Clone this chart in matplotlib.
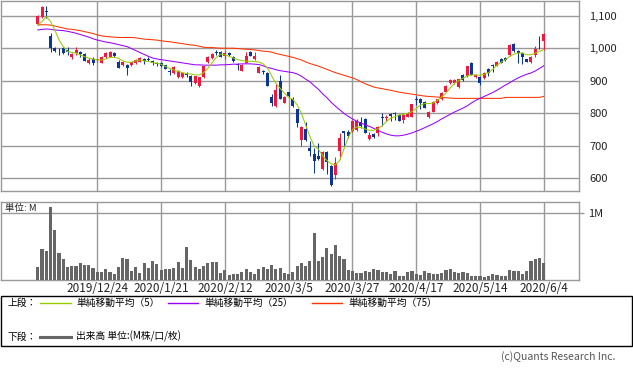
import numpy as np
import matplotlib
matplotlib.use("Agg")
import matplotlib.pyplot as plt
from matplotlib.patches import Rectangle
from matplotlib.ticker import FuncFormatter

plt.rcParams['font.family'] = ['Noto Sans CJK JP', 'DejaVu Sans']

# ---- values (daily candles, 2019/12/4 - 2020/6/4) ----
grid_idx = [14, 29, 44, 59, 74, 89, 104, 119]
date_labels = ['2019/12/24', '2020/1/21', '2020/2/12', '2020/3/5',
               '2020/3/27', '2020/4/17', '2020/5/14', '2020/6/4']
price_ticks = [600, 700, 800, 900, 1000, 1100]

opens = [1074, 1096, 1114, 1036, 1002, 993, 1002, 995, 972, 985,
         988, 981, 955, 968, 963, 956, 972, 974, 985, 959,
         948, 950, 950, 954, 959, 966, 966, 961, 956, 954,
         947, 929, 925, 912, 912, 922, 915, 893, 884, 913,
         957, 969, 988, 987, 976, 985, 974, 952, 931, 954,
         988, 966, 925, 930, 925, 851, 823, 900, 833, 865,
         843, 812, 718, 752, 695, 675, 670, 630, 680, 638,
         610, 685, 746, 744, 745, 748, 772, 784, 720, 737,
         741, 790, 786, 798, 800, 795, 780, 790, 790, 842,
         843, 836, 790, 805, 831, 843, 867, 894, 892, 880,
         918, 915, 956, 911, 913, 908, 935, 949, 946, 966,
         969, 979, 1013, 993, 985, 966, 959, 979, 1020, 1022]
highs = [1101, 1130, 1131, 1048, 1005, 1000, 1004, 1005, 985, 1004,
         990, 985, 969, 972, 968, 975, 988, 991, 988, 963,
         961, 953, 958, 967, 972, 970, 972, 965, 959, 957,
         949, 935, 944, 932, 926, 926, 918, 916, 913, 946,
         975, 986, 995, 990, 990, 988, 976, 955, 952, 987,
         993, 987, 946, 933, 928, 859, 890, 917, 852, 867,
         849, 814, 760, 772, 716, 693, 708, 685, 683, 640,
         667, 739, 747, 750, 780, 782, 790, 786, 744, 740,
         762, 800, 795, 800, 805, 798, 800, 803, 829, 852,
         846, 838, 808, 838, 845, 866, 887, 906, 905, 907,
         922, 946, 958, 922, 915, 928, 938, 952, 962, 970,
         973, 1012, 1015, 996, 988, 968, 976, 1007, 1036, 1048]
lows = [1071, 1094, 1092, 987, 988, 979, 983, 979, 966, 979,
        972, 960, 951, 950, 958, 954, 970, 972, 974, 938,
        946, 919, 944, 952, 957, 951, 960, 947, 944, 943,
        935, 918, 922, 909, 910, 913, 885, 891, 882, 910,
        954, 967, 979, 972, 966, 976, 959, 932, 929, 954,
        975, 964, 924, 921, 885, 823, 821, 844, 831, 851,
        820, 759, 700, 716, 669, 618, 656, 627, 615, 577,
        598, 659, 700, 725, 742, 745, 754, 739, 718, 724,
        730, 760, 777, 775, 780, 777, 770, 788, 788, 826,
        812, 815, 786, 803, 829, 841, 865, 890, 889, 878,
        900, 913, 917, 908, 888, 905, 915, 928, 944, 954,
        962, 977, 988, 956, 952, 957, 955, 973, 997, 996]
closes = [1099, 1127, 1110, 1000, 993, 990, 985, 988, 981, 995,
          983, 962, 964, 955, 966, 972, 984, 987, 975, 938,
          959, 938, 957, 964, 969, 960, 963, 954, 952, 944,
          936, 927, 941, 929, 925, 918, 897, 915, 912, 944,
          972, 982, 986, 974, 985, 980, 961, 948, 950, 976,
          976, 976, 943, 927, 885, 831, 872, 844, 851, 852,
          823, 771, 757, 718, 685, 655, 660, 680, 650, 580,
          647, 723, 741, 729, 778, 775, 760, 741, 734, 727,
          759, 786, 788, 792, 799, 778, 795, 800, 829, 841,
          831, 816, 805, 836, 843, 864, 884, 903, 903, 905,
          903, 944, 918, 918, 892, 925, 925, 944, 959, 956,
          964, 1010, 990, 985, 972, 959, 972, 997, 1018, 1043]

# volume in millions
volume = [0.20, 0.46, 0.44, 1.09, 0.75, 0.41, 0.32, 0.20, 0.21, 0.21,
          0.26, 0.23, 0.22, 0.18, 0.12, 0.12, 0.17, 0.12, 0.09, 0.20,
          0.33, 0.32, 0.14, 0.20, 0.11, 0.26, 0.18, 0.29, 0.24, 0.16,
          0.17, 0.17, 0.18, 0.27, 0.18, 0.50, 0.30, 0.20, 0.17, 0.21,
          0.26, 0.27, 0.27, 0.11, 0.15, 0.08, 0.09, 0.09, 0.12, 0.17,
          0.12, 0.09, 0.17, 0.20, 0.17, 0.23, 0.17, 0.18, 0.11, 0.09,
          0.12, 0.21, 0.26, 0.21, 0.29, 0.70, 0.29, 0.35, 0.48, 0.39,
          0.53, 0.36, 0.32, 0.15, 0.14, 0.11, 0.11, 0.14, 0.12, 0.17,
          0.15, 0.12, 0.12, 0.09, 0.14, 0.07, 0.06, 0.12, 0.14, 0.09,
          0.08, 0.14, 0.11, 0.09, 0.09, 0.11, 0.15, 0.17, 0.12, 0.11,
          0.12, 0.11, 0.06, 0.06, 0.06, 0.05, 0.07, 0.09, 0.08, 0.06,
          0.06, 0.16, 0.14, 0.14, 0.09, 0.14, 0.28, 0.32, 0.33, 0.26]

ma5 = [1072, 1082, 1097, 1082, 1056, 1025, 1005, 990, 987, 985,
       979, 974, 969, 967, 964, 964, 967, 972, 972, 969,
       961, 957, 957, 961, 964, 961, 959, 956, 954, 951,
       944, 938, 933, 929, 925, 922, 921, 918, 918, 925,
       938, 955, 972, 982, 980, 975, 970, 965, 962, 960,
       960, 959, 958, 952, 940, 915, 892, 877, 862, 849,
       843, 826, 800, 764, 729, 700, 690, 670, 655, 645,
       642, 655, 690, 725, 750, 758, 757, 752, 748, 748,
       752, 762, 775, 785, 790, 795, 797, 800, 805, 815,
       825, 830, 830, 832, 840, 850, 862, 878, 892, 900,
       908, 915, 918, 918, 917, 920, 925, 935, 948, 957,
       965, 975, 982, 985, 985, 980, 980, 985, 990, 996]
ma25 = [1056, 1058, 1059, 1058, 1056, 1055, 1054, 1052, 1049, 1046,
        1042, 1038, 1034, 1029, 1025, 1022, 1019, 1017, 1014, 1011,
        1008, 1005, 999, 993, 987, 981, 975, 970, 967, 965,
        963, 961, 959, 957, 955, 953, 951, 949, 949, 948,
        948, 948, 948, 949, 949, 950, 951, 951, 952, 952,
        952, 951, 950, 946, 941, 938, 934, 931, 929, 927,
        925, 921, 914, 905, 897, 885, 874, 860, 848, 834,
        822, 811, 800, 791, 783, 776, 770, 765, 760, 754,
        748, 742, 737, 733, 731, 731, 733, 736, 740, 745,
        750, 756, 762, 768, 775, 783, 790, 797, 804, 810,
        816, 823, 832, 840, 846, 852, 858, 864, 871, 879,
        887, 894, 902, 909, 915, 920, 924, 930, 938, 946]
ma75 = [1072, 1072, 1072, 1071, 1068, 1065, 1062, 1059, 1058, 1056,
        1054, 1051, 1048, 1045, 1041, 1038, 1036, 1035, 1034, 1033,
        1033, 1033, 1033, 1032, 1030, 1028, 1027, 1026, 1025, 1023,
        1021, 1020, 1018, 1016, 1014, 1012, 1010, 1009, 1006, 1003,
        1002, 1002, 1001, 1000, 1000, 1000, 1000, 999, 998, 997,
        996, 995, 993, 991, 990, 988, 984, 981, 978, 975,
        972, 968, 964, 958, 953, 949, 945, 940, 935, 930,
        925, 921, 917, 913, 909, 904, 897, 891, 886, 881,
        878, 876, 873, 871, 868, 865, 863, 861, 859, 857,
        855, 853, 852, 851, 850, 849, 848, 847, 846, 846,
        846, 846, 846, 846, 846, 846, 846, 846, 846, 846,
        849, 849, 849, 849, 849, 849, 849, 849, 849, 852]

# colours
UP = '#f5163b'
DOWN = '#0b3596'
MA5_C = '#99cc00'
MA25_C = '#9900ff'
MA75_C = '#ff3300'
GRID = '#999999'
VOL_C = '#666666'

W, H = 633, 373
fig = plt.figure(figsize=(W / 100, H / 100), dpi=100)


def px_rect(x0, y0, x1, y1):
    # pixel box (top-left origin) -> figure fraction rect
    return [x0 / W, 1 - y1 / H, (x1 - x0) / W, (y1 - y0) / H]


ax = fig.add_axes(px_rect(1, 1, 579, 190.7))
axv = fig.add_axes(px_rect(1, 202, 579, 280.3))

x = np.arange(len(closes))
o = np.array(opens, dtype=float)
c = np.array(closes, dtype=float)
hi = np.array(highs, dtype=float)
lo = np.array(lows, dtype=float)
colors = np.where(c >= o, UP, DOWN)

# candles
ax.vlines(x, lo, hi, colors=colors, linewidth=0.75, zorder=3)
body_h = np.maximum(np.abs(c - o), 2.5)
ax.bar(x, body_h, bottom=np.minimum(o, c), width=0.72, color=colors, linewidth=0, zorder=4)

# moving averages
ax.plot(x, ma75, color=MA75_C, lw=0.75, zorder=5)
ax.plot(x, ma25, color=MA25_C, lw=0.75, zorder=5)
ax.plot(x, ma5, color=MA5_C, lw=0.75, zorder=6)

xlim = (-8.66, 127.3)
ax.set_xlim(*xlim)
ax.set_ylim(562.5, 1145)
ax.set_xticks(grid_idx)
ax.set_yticks(price_ticks)
ax.yaxis.tick_right()
ax.yaxis.set_major_formatter(FuncFormatter(lambda v, _: '{:,.0f}'.format(v)))
ax.tick_params(axis='x', length=0, labelbottom=False)
ax.tick_params(axis='y', length=0, pad=7.5, labelsize=8, labelcolor='#222222')
ax.grid(True, color=GRID, lw=1.0, zorder=0)
ax.set_axisbelow(True)

# volume
axv.bar(x, volume, width=0.75, color=VOL_C, linewidth=0, zorder=3)
axv.set_xlim(*xlim)
axv.set_ylim(0, 1.163)
axv.set_yticks([1])
axv.set_yticklabels(['1M'])
axv.yaxis.tick_right()
axv.set_xticks(grid_idx)
axv.set_xticklabels(date_labels)
axv.tick_params(axis='x', length=0, pad=1, labelsize=8.5, labelcolor='#222222')
axv.tick_params(axis='y', length=3.6, width=1.0, color=GRID, pad=3.2, labelsize=8, labelcolor='#222222')
axv.grid(True, color=GRID, lw=1.0, zorder=0)
axv.set_axisbelow(True)

for a in (ax, axv):
    for s in a.spines.values():
        s.set_color(GRID)
        s.set_linewidth(1.0)

# overlay in pixel coordinates for labels and legend box
ov = fig.add_axes([0, 0, 1, 1])
ov.set_xlim(0, W)
ov.set_ylim(H, 0)
ov.axis('off')
ov.patch.set_alpha(0)

ov.text(5, 208, '単位: M', fontsize=6.8, va='center', ha='left', color='#222222')

ov.add_patch(Rectangle((0.5, 295.7), 631, 50.3, fill=False, edgecolor='black', lw=1.0, clip_on=False))
fs = 7
y1, y2 = 303.3, 336.7
ov.text(8, y1, '上段：', fontsize=fs, va='center')
ov.plot([40, 71], [y1, y1], color=MA5_C, lw=1.0)
ov.text(76, y1, '単純移動平均（5）', fontsize=fs, va='center')
ov.plot([167.5, 198], [y1, y1], color=MA25_C, lw=1.0)
ov.text(204, y1, '単純移動平均（25）', fontsize=fs, va='center')
ov.plot([312, 342], [y1, y1], color=MA75_C, lw=1.0)
ov.text(348, y1, '単純移動平均（75）', fontsize=fs, va='center')
ov.text(8, y2, '下段：', fontsize=fs, va='center')
ov.plot([40, 71], [y2, y2], color=VOL_C, lw=2.2)
ov.text(76, y2, '出来高 単位:(M株/口/枚)', fontsize=fs, va='center')

ov.text(615, 357, '(c)Quants Research Inc.', fontsize=7.5, ha='right', va='center', color='#555555')

fig.savefig('out.png', dpi=100)
